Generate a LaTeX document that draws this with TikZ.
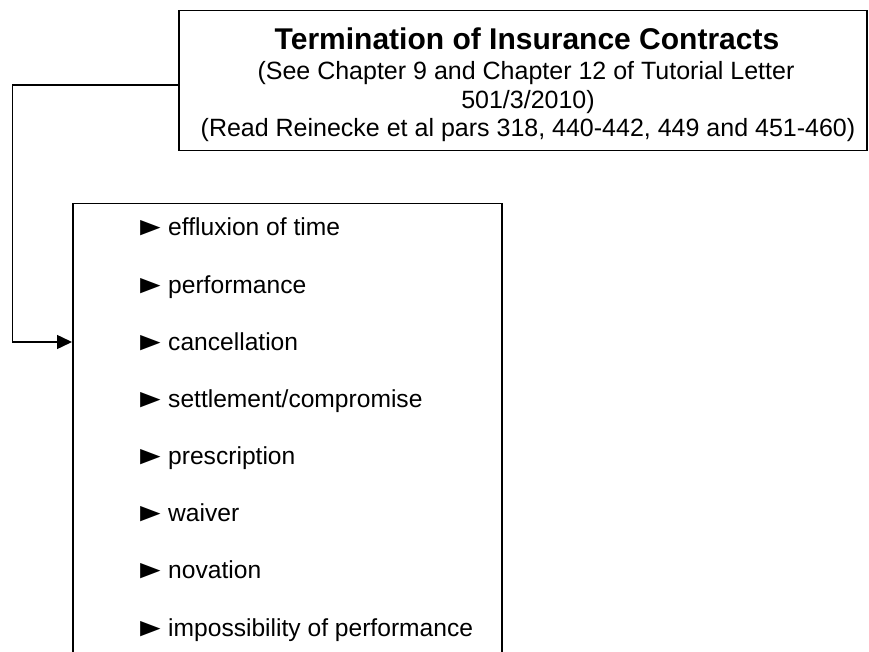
\documentclass[tikz,border=0pt]{standalone}
\usepackage{fontspec}
\usepackage{graphicx}
\setmainfont{Liberation Sans}
\usetikzlibrary{arrows.meta,calc}
\newcommand{\mybul}{\makebox[28pt][l]{\hspace{-6.5pt}\scalebox{1.38}[1.05]{►}}}
\begin{document}
\begin{tikzpicture}[x=1pt,y=-1pt,
  box/.style={draw=black,line width=1.5pt,inner sep=0pt},
  hdr/.style={anchor=base,inner sep=0pt,font=\fontsize{25}{30}\selectfont},
  ttl/.style={anchor=base,inner sep=0pt,font=\fontsize{30}{36}\selectfont\bfseries},
  itm/.style={anchor=base west,inner sep=0pt,font=\fontsize{24.6}{29}\selectfont},
  conn/.style={line width=1.5pt,-{Triangle[length=15pt,width=14pt]}}]
\useasboundingbox (0,0) rectangle (869,652);
\fill[white] (0,0) rectangle (869,652);
\node[box,anchor=north west,minimum width=688pt,minimum height=140pt] (top) at (178,10) {};
\node[ttl] (t1) at (527,49.3) {Termination of Insurance Contracts};
\node[hdr] (t2) at (526,80) {(See Chapter 9 and Chapter 12 of Tutorial Letter};
\node[hdr] (t3) at (528,108.5) {501/3/2010)};
\node[hdr] (t4) at (528,137) {(Read Reinecke et al pars 318, 440-442, 449 and 451-460)};
\node[box,anchor=north west,minimum width=429pt,minimum height=455pt] (list) at (72,203) {};
\foreach \n/\y/\t in {1/236/effluxion of time,2/293.1/performance,3/350.3/cancellation,4/407.4/settlement\slash compromise,5/464.6/prescription,6/521.7/waiver,7/578.9/novation,8/636/impossibility of performance}{
  \node[itm] (i\n) at (140,\y) {\mybul\t};
}
\coordinate (s) at ($(top.north west)+(0,75)$);
\coordinate (e) at ($(list.north west)+(0,139)$);
\draw[conn] (s) -- ++(-165.5,0) |- (e);
\end{tikzpicture}
\end{document}
